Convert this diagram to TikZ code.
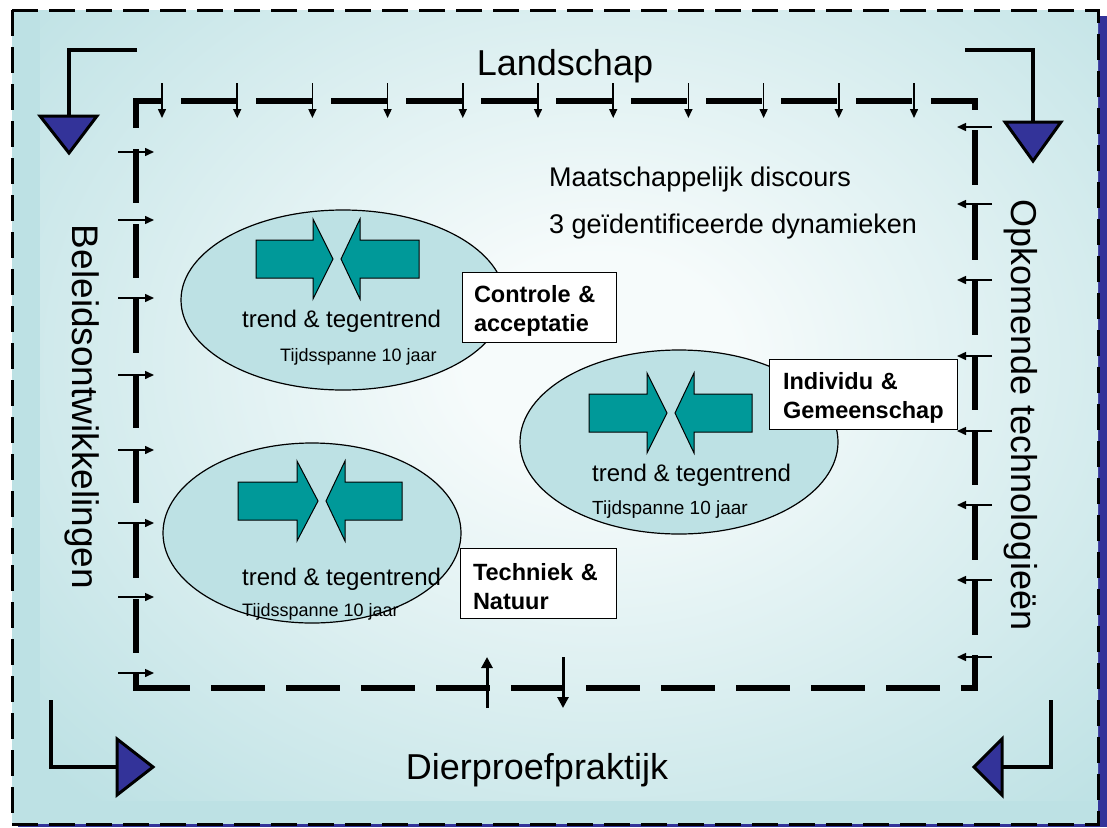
\documentclass[tikz,border=0pt]{standalone}
\usepackage{fontspec}
\setmainfont{Liberation Sans}
\usetikzlibrary{arrows.meta,shapes.geometric}

\definecolor{bgteal}{RGB}{189,225,228}
\definecolor{glowin}{RGB}{246,251,251}
\definecolor{shadowblue}{RGB}{51,51,153}
\definecolor{arrowteal}{RGB}{0,153,153}

% soft light spot in the middle of the field
\pgfdeclareradialshading{glow}{\pgfpoint{0bp}{0bp}}{color(0bp)=(glowin); color(6bp)=(glowin); color(34bp)=(bgteal); color(50bp)=(bgteal)}

\newcommand{\fsz}[1]{\fontsize{#1pt}{#1pt}\selectfont}

% pair of opposing block arrows: #1 centre y, #2 left tail, #3 left head base,
% #4 left tip, #5 right tip, #6 right head base, #7 right tail
\newcommand{\arrowpair}[7]{%
  \filldraw[blockarrow] (#2,#1-19) -- (#3,#1-19) -- (#3,#1-40) -- (#4,#1) -- (#3,#1+40) -- (#3,#1+19) -- (#2,#1+19) -- cycle;
  \filldraw[blockarrow] (#7,#1-19) -- (#6,#1-19) -- (#6,#1-40) -- (#5,#1) -- (#6,#1+40) -- (#6,#1+19) -- (#7,#1+19) -- cycle;}

\begin{document}
\begin{tikzpicture}[x=1pt,y=-1pt,
  outerborder/.style={line width=3pt, dash pattern=on 26pt off 11pt},
  innerdash/.style={line width=6pt},
  smallarrow/.style={line width=1.5pt, -{Triangle[length=9pt,width=8pt]}},
  bigtick/.style={line width=3pt, -{Triangle[length=11pt,width=11pt]}},
  elbow/.style={line width=4pt},
  cornertri/.style={fill=shadowblue, draw=black, line width=3pt, line join=miter},
  bubble/.style={ellipse, draw=black, line width=1.2pt, fill=bgteal, inner sep=0pt},
  blockarrow/.style={fill=arrowteal, draw=black, line width=1pt, line join=miter},
  plain/.style={inner sep=0pt, anchor=base west},
  labelbox/.style={draw=black, fill=white, line width=1pt, anchor=north west, align=left,
    minimum height=70pt, inner ysep=0pt, text height=23pt,
    font=\bfseries\fontsize{23.5pt}{29pt}\selectfont}]

\useasboundingbox (0,0) rectangle (1107,827);

% drop shadow, field and its light spot
\fill[shadowblue] (18,16) rectangle (1107,827);
\fill[bgteal] (12,10) rectangle (1098,824);
\begin{scope}
  \clip (12,10) rectangle (1098,824);
  \shade[shading=glow] (40,-80) rectangle (1160,800);
\end{scope}
\draw[outerborder] (12,10) rectangle (1098,824);

% inner thick dashed frame, one side at a time
\draw[innerdash, dash pattern=on 56pt off 19pt, dash phase=27pt] (133,101) -- (978,101);
\draw[innerdash, dash pattern=on 55pt off 20pt, dash phase=43pt] (975,98) -- (975,691);
\draw[innerdash, dash pattern=on 54pt off 21pt, dash phase=72pt] (133,688) -- (978,688);
\draw[innerdash, dash pattern=on 54pt off 21pt, dash phase=24pt] (136,98) -- (136,691);

% small influence arrows along the frame
\foreach \i in {0,...,10} \draw[smallarrow] (162+75.2*\i,83) -- (162+75.2*\i,118);
\foreach \y in {152,220,298,375,450,523,597,673} \draw[smallarrow] (118,\y) -- (154,\y);
\foreach \y in {127,204,280,356,431,505,580,657} \draw[smallarrow] (992,\y) -- (957,\y);
\coordinate (upfoot) at (487,708);
\coordinate (uphead) at (487,657);
\coordinate (dnfoot) at (563,657);
\coordinate (dnhead) at (563,708);
\draw[bigtick] (upfoot) -- (uphead);
\draw[bigtick] (dnfoot) -- (dnhead);

% corner elbows with triangular heads
\draw[elbow] (137,50) -- (69,50) -- (69,116);
\filldraw[cornertri] (40,116) -- (97,116) -- (69,153) -- cycle;
\draw[elbow] (965,50) -- (1033,50) -- (1033,122);
\filldraw[cornertri] (1005,122) -- (1061,122) -- (1033,161) -- cycle;
\draw[elbow] (51,700) -- (51,767) -- (117,767);
\filldraw[cornertri] (117,739) -- (117,795) -- (153,767) -- cycle;
\draw[elbow] (1051,700) -- (1051,767) -- (1002,767);
\filldraw[cornertri] (1002,739) -- (1002,795) -- (974,767) -- cycle;

% side titles
\node[anchor=base, inner sep=0pt, font=\fsz{36}] (land) at (565,75) {Landschap};
\node[anchor=base, inner sep=0pt, font=\fsz{36}] (dier) at (537,779) {Dierproefpraktijk};
\node[anchor=base, inner sep=0pt, rotate=-90, font=\fsz{37}] (beleid) at (72,407) {Beleidsontwikkelingen};
\node[anchor=base, inner sep=0pt, rotate=-90, font=\fsz{36}] (opkom) at (1011,415) {Opkomende technologieën};

% central caption
\node[plain, font=\fsz{27}] (disc) at (549,186) {Maatschappelijk discours};
\node[plain, font=\fsz{27}] (dyn) at (549,233) {3 geïdentificeerde dynamieken};

% the three dynamics
\node[bubble, minimum width=324pt, minimum height=180pt] (e1) at (343,300) {};
\node[bubble, minimum width=318pt, minimum height=184pt] (e2) at (679,442) {};
\node[bubble, minimum width=298pt, minimum height=180pt] (e3) at (312,533) {};

\arrowpair{259}{256}{313}{333}{341}{360}{419}
\arrowpair{413}{589}{647}{667}{675}{694}{752}
\arrowpair{501}{238}{297}{318}{326}{345}{402}

\node[plain, font=\fsz{24}] (t1) at (242,327) {trend \& tegentrend};
\node[plain, font=\fsz{18}] (s1) at (280,361) {Tijdsspanne 10 jaar};
\node[plain, font=\fsz{24}] (t2) at (592,481) {trend \& tegentrend};
\node[plain, font=\fsz{19}] (s2) at (592,514) {Tijdspanne 10 jaar};
\node[plain, font=\fsz{24}] (t3) at (242,585) {trend \& tegentrend};
\node[plain, font=\fsz{18}] (s3) at (242,616) {Tijdsspanne 10 jaar};

\node[labelbox, minimum width=154pt, inner xsep=11pt, text width=131pt] (b1) at (462,272) {Controle \&\\acceptatie};
\node[labelbox, minimum width=188pt, inner xsep=13pt, text width=161pt] (b2) at (769,359) {Individu \&\\Gemeenschap};
\node[labelbox, minimum width=156pt, inner xsep=12pt, text width=131pt] (b3) at (460,548) {Techniek \&\\Natuur};

\end{tikzpicture}
\end{document}
